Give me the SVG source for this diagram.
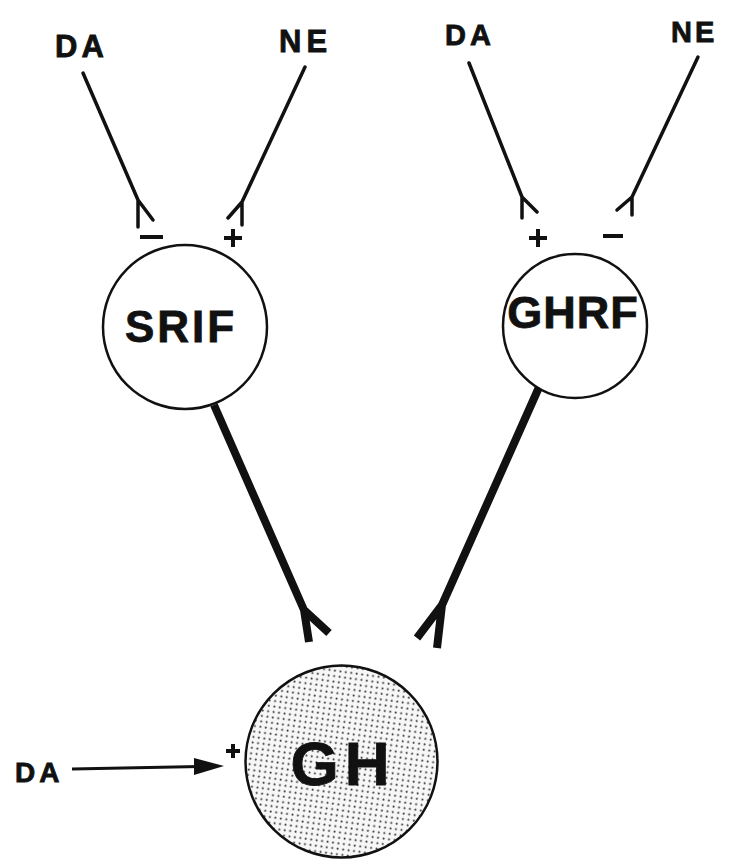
<svg xmlns="http://www.w3.org/2000/svg" width="735" height="867" viewBox="0 0 735 867">
<style>
.lbl{font-family:"Liberation Sans",Arial,sans-serif;font-weight:bold;fill:#111;stroke:#111;stroke-width:0.8}
.thin{stroke:#111;stroke-width:3.5;fill:none;stroke-linecap:round;stroke-linejoin:round}
.thick{stroke:#111;stroke-width:8;fill:none;stroke-linecap:butt;stroke-linejoin:round}
.node{stroke:#111;stroke-width:2.5}
.sign{stroke:#111;stroke-width:4;fill:none}
</style>
<defs>
<pattern id="dots" width="5.5" height="5.5" patternUnits="userSpaceOnUse" patternTransform="rotate(8)">
<rect width="5.5" height="5.5" fill="#f7f7f7"/>
<circle cx="1.5" cy="1.5" r="1" fill="#333"/>
</pattern>
</defs>
<rect width="735" height="867" fill="#fff"/>

<g id="connectors">
<path class="thin" d="M83,73 L138,200 L138,227 M138,200 L153,220"/>
<path class="thin" d="M305,67 L242,202 L242,225 M242,202 L228,218"/>
<path class="thin" d="M469,63 L522,197 L522,218 M522,197 L537,212"/>
<path class="thin" d="M698,57 L632,197 L632,215 M632,197 L617,210"/>
<path class="thick" d="M214,405 L304,610 L309,642 M304,610 L329,633"/>
<path class="thick" d="M540,385 L442,605 L437,648 M442,605 L417,638"/>
<line x1="72" y1="769" x2="200" y2="766.6" stroke="#111" stroke-width="3"/>
<path d="M194,758 L224,766 L194,775 Z" fill="#111"/>
</g>

<g id="signs">
<line class="sign" x1="140" y1="237" x2="163" y2="237"/>
<path class="sign" d="M224,238 L242,238 M233,229 L233,247"/>
<path class="sign" d="M529,238 L547,238 M538,229 L538,247"/>
<line class="sign" x1="603" y1="236" x2="623" y2="236"/>
<path class="sign" d="M226,751 L240,751 M233,744 L233,758"/>
</g>

<g id="node-DA1"><text class="lbl" x="55" y="57" font-size="31" letter-spacing="4">DA</text></g>
<g id="node-NE1"><text class="lbl" x="279" y="52" font-size="31" letter-spacing="5">NE</text></g>
<g id="node-DA2"><text class="lbl" x="445" y="45" font-size="29" letter-spacing="4">DA</text></g>
<g id="node-NE2"><text class="lbl" x="671" y="42" font-size="29" letter-spacing="3">NE</text></g>

<g id="node-SRIF">
<circle class="node" cx="185" cy="327" r="82" fill="#fff"/>
<text class="lbl" x="181" y="342" font-size="44" text-anchor="middle" letter-spacing="3">SRIF</text>
</g>
<g id="node-GHRF">
<circle class="node" cx="575" cy="326" r="72" fill="#fff"/>
<text class="lbl" x="573" y="328" font-size="45" text-anchor="middle" letter-spacing="1">GHRF</text>
</g>
<g id="node-GH">
<circle class="node" cx="341.5" cy="761.5" r="96" fill="url(#dots)"/>
<text class="lbl" x="343" y="785" font-size="62" text-anchor="middle" letter-spacing="6">GH</text>
</g>
<g id="node-DA3"><text class="lbl" x="15" y="782" font-size="28" letter-spacing="4">DA</text></g>
</svg>
